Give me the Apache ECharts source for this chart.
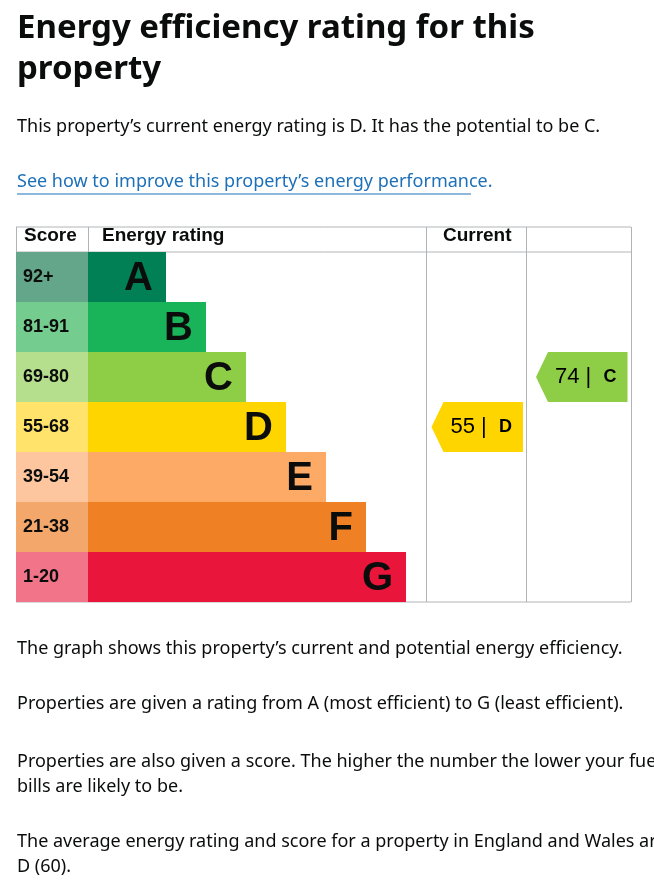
<!DOCTYPE html>
<html><head><meta charset="utf-8">
<script src="https://cdn.jsdelivr.net/npm/echarts@6/dist/echarts.min.js"></script>
<style>html,body{margin:0;padding:0;background:#fff}#c{width:654px;height:891px}</style>
</head><body><div id="c"></div>
<script>
const bands = ['A','B','C','D','E','F','G'];
const scoreRanges = ['92+','81-91','69-80','55-68','39-54','21-38','1-20'];
const barLengths = [78,118,158,198,238,278,318];
const bandColors = ['#008054','#19b459','#8dce46','#ffd500','#fcaa65','#ef8023','#e9153b'];
const scoreColors = ['#64a68a','#74cc8f','#b6df8d','#ffe36a','#fdc69e','#f4a76a','#f17489'];
const columns = ['Current','Potential'];
const current = {score:55, band:'D'};
const potential = {score:74, band:'C'};

const chart = echarts.init(document.getElementById('c'));
const F = '"Liberation Sans", Arial, sans-serif';
const B = '"Noto Sans", "Liberation Sans", sans-serif';
const grey = '#b1b4b6';
const yAx = (gi)=>({type:'category',gridIndex:gi,data:bands,inverse:true,show:false});
const arrows = [current,potential].map((p,i)=>({value:[i, bands.indexOf(p.band)], score:p.score, band:p.band}));

chart.setOption({
  animation:false,
  grid:[
    {left:16,width:72,top:252,height:350},
    {left:88,width:338,top:252,height:350},
    {left:426,width:205,top:252,height:350}
  ],
  xAxis:[
    {type:'value',gridIndex:0,min:0,max:1,show:false},
    {type:'value',gridIndex:1,min:0,max:338,show:false},
    {type:'category',gridIndex:2,data:columns,position:'top',axisLine:{show:false},axisTick:{show:false},
     axisLabel:{margin:7,fontFamily:F,fontWeight:'bold',fontSize:19,color:'#0b0c0c'}}
  ],
  yAxis:[yAx(0),yAx(1),yAx(2)],
  series:[
    {type:'bar',xAxisIndex:0,yAxisIndex:0,barCategoryGap:0,
     data:scoreRanges.map((s,i)=>({value:1,name:s,itemStyle:{color:scoreColors[i]}})),
     label:{show:true,position:'insideLeft',offset:[2,0],formatter:p=>p.name,fontFamily:F,fontWeight:'bold',fontSize:18,color:'#0b0c0c'}},
    {type:'bar',xAxisIndex:1,yAxisIndex:1,barCategoryGap:0,
     data:barLengths.map((v,i)=>({value:v,name:bands[i],itemStyle:{color:bandColors[i]}})),
     label:{show:true,position:'insideRight',offset:[-8,2],formatter:p=>p.name,fontFamily:F,fontWeight:'bold',fontSize:40,color:'#0b0c0c'}},
    {type:'custom',xAxisIndex:2,yAxisIndex:2,data:arrows,
     renderItem:(params,api)=>{
       const c = api.coord([api.value(0),api.value(1)]);
       const s = api.size([1,1]);
       const w = s[0]-11, h = s[1], tip = 12;
       const x0 = c[0]-w/2 - (api.value(0)===0? 0 : -2), y0 = c[1]-h/2;
       const d = arrows[params.dataIndex];
       const col = bandColors[bands.indexOf(d.band)];
       return {type:'group',children:[
         {type:'polygon',shape:{points:[[x0,c[1]],[x0+tip,y0],[x0+w,y0],[x0+w,y0+h],[x0+tip,y0+h]]},style:{fill:col}},
         {type:'text',x:x0+w/2+4,y:c[1],style:{text:'{n|'+d.score+' |  }{b|'+d.band+'}',align:'center',verticalAlign:'middle',
           rich:{n:{fontFamily:F,fontSize:22,color:'#0b0c0c'},b:{fontFamily:F,fontSize:18,fontWeight:'bold',color:'#0b0c0c'}}}}
       ]};
     }}
  ],
  graphic:[
    {type:'text',left:17,top:8,style:{text:'Energy efficiency rating for this\nproperty',font:'bold 33px '+B,lineHeight:41,fill:'#0b0c0c'}},
    {type:'text',left:17,top:118,style:{text:'This property\u2019s current energy rating is D. It has the potential to be C.',font:'18px '+B,fill:'#0b0c0c'}},
    {type:'text',left:17,top:173,style:{text:'See how to improve this property\u2019s energy performance.',font:'18px '+B,fill:'#1d70b8'}},
    {type:'line',shape:{x1:17,y1:194,x2:471,y2:194},style:{stroke:'#1d70b8',lineWidth:1}},
    {type:'text',left:24,top:226,style:{text:'Score',font:'bold 19px '+F,fill:'#0b0c0c'}},
    {type:'text',left:102,top:226,style:{text:'Energy rating',font:'bold 19px '+F,fill:'#0b0c0c'}},
    {type:'line',shape:{x1:16,y1:227,x2:631,y2:227},style:{stroke:grey}},
    {type:'line',shape:{x1:16,y1:252,x2:631,y2:252},style:{stroke:grey}},
    {type:'line',shape:{x1:16,y1:602,x2:631,y2:602},style:{stroke:grey}},
    {type:'line',shape:{x1:16.5,y1:227,x2:16.5,y2:602},style:{stroke:grey}},
    {type:'line',shape:{x1:88.5,y1:227,x2:88.5,y2:252},style:{stroke:grey}},
    {type:'line',shape:{x1:426.5,y1:227,x2:426.5,y2:602},style:{stroke:grey}},
    {type:'line',shape:{x1:526.5,y1:227,x2:526.5,y2:602},style:{stroke:grey}},
    {type:'line',shape:{x1:631.5,y1:227,x2:631.5,y2:602},style:{stroke:grey}},
    {type:'text',left:17,top:640,style:{text:'The graph shows this property\u2019s current and potential energy efficiency.',font:'18px '+B,fill:'#0b0c0c'}},
    {type:'text',left:17,top:695,style:{text:'Properties are given a rating from A (most efficient) to G (least efficient).',font:'18px '+B,fill:'#0b0c0c'}},
    {type:'text',left:17,top:749,style:{text:'Properties are also given a score. The higher the number the lower your fuel\nbills are likely to be.',font:'18px '+B,lineHeight:25,fill:'#0b0c0c'}},
    {type:'text',left:17,top:829,style:{text:'The average energy rating and score for a property in England and Wales are\nD (60).',font:'18px '+B,lineHeight:25,fill:'#0b0c0c'}}
  ]
});
</script></body></html>
